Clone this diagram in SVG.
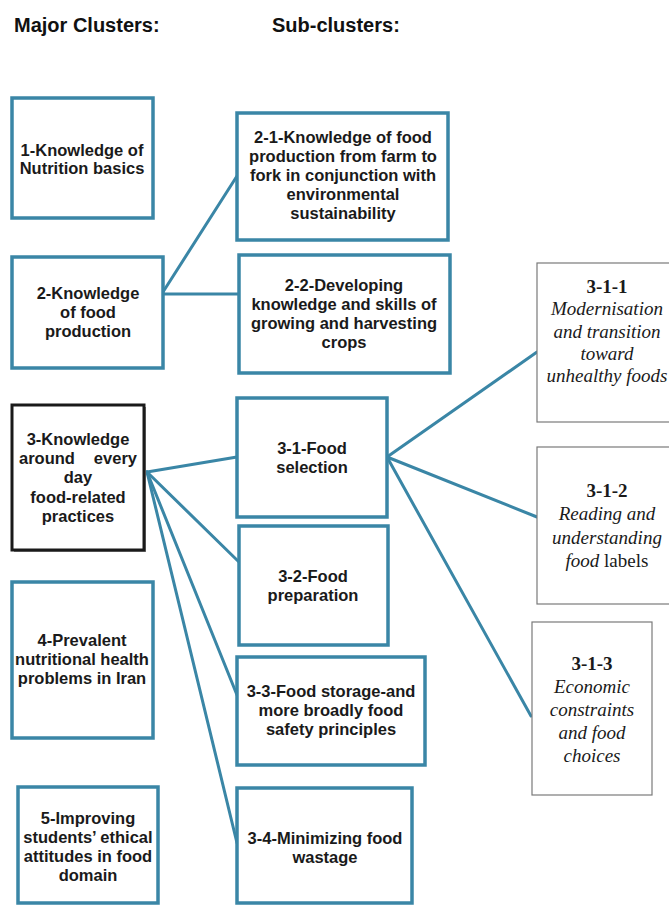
<svg xmlns="http://www.w3.org/2000/svg" width="669" height="905" viewBox="0 0 669 905">
<style>
.hdr{font-family:"Liberation Sans",Arial,sans-serif;font-weight:bold;font-size:20px;fill:#111}
.box{fill:#fff;stroke:#3a86a6;stroke-width:3.5}
.blk{fill:#fff;stroke:#1a1a1a;stroke-width:3}
.thin{fill:#fff;stroke:#7a7a7a;stroke-width:1.2}
.t{font-family:"Liberation Sans",Arial,sans-serif;font-weight:bold;font-size:16.5px;fill:#1a1a1a;text-anchor:middle}
.s{font-family:"Liberation Serif","Times New Roman",serif;font-size:19px;fill:#1a1a1a;text-anchor:middle}
.b{font-weight:bold;font-style:normal}
.i{font-style:italic}
.c{fill:none;stroke:#3a86a6;stroke-width:3;stroke-linecap:round}
</style>
<rect width="669" height="905" fill="#fff"/>
<text class="hdr" x="14" y="32">Major Clusters:</text>
<text class="hdr" x="272" y="32">Sub-clusters:</text>

<g id="connectors">
<line class="c" x1="163" y1="292" x2="237" y2="176"/>
<line class="c" x1="163" y1="294" x2="239" y2="294"/>
<line class="c" x1="147" y1="472" x2="237" y2="457"/>
<line class="c" x1="147" y1="472" x2="239" y2="562"/>
<line class="c" x1="147" y1="472" x2="237" y2="695"/>
<line class="c" x1="147" y1="472" x2="237" y2="843"/>
<line class="c" x1="387" y1="457" x2="537" y2="352"/>
<line class="c" x1="387" y1="457" x2="537" y2="517"/>
<line class="c" x1="387" y1="457" x2="531" y2="716"/>
</g>

<g id="n1">
<rect class="box" x="12" y="98" width="141" height="120"/>
<text class="t" x="82" y="156">1-Knowledge of</text>
<text class="t" x="82" y="174">Nutrition basics</text>
</g>
<g id="n2">
<rect class="box" x="12" y="257" width="151" height="111"/>
<text class="t" x="88" y="299">2-Knowledge</text>
<text class="t" x="88" y="318">of food</text>
<text class="t" x="88" y="337">production</text>
</g>
<g id="n3">
<rect x="14" y="407" width="132" height="145" fill="#888"/>
<rect class="blk" x="12" y="405" width="132" height="145"/>
<text class="t" x="78" y="445">3-Knowledge</text>
<text class="t" y="464"><tspan x="19" style="text-anchor:start">around</tspan><tspan x="137" style="text-anchor:end">every</tspan></text>
<text class="t" x="78" y="483">day</text>
<text class="t" x="78" y="503">food-related</text>
<text class="t" x="78" y="522">practices</text>
</g>
<g id="n4">
<rect class="box" x="12" y="582" width="141" height="156"/>
<text class="t" x="82" y="646">4-Prevalent</text>
<text class="t" x="82" y="665">nutritional health</text>
<text class="t" x="82" y="684">problems in Iran</text>
</g>
<g id="n5">
<rect class="box" x="18" y="787" width="140" height="116"/>
<text class="t" x="88" y="824">5-Improving</text>
<text class="t" x="88" y="843">students’ ethical</text>
<text class="t" x="88" y="862">attitudes in food</text>
<text class="t" x="88" y="881">domain</text>
</g>

<g id="n2-1">
<rect class="box" x="237" y="113" width="211" height="127"/>
<text class="t" x="343" y="143">2-1-Knowledge of food</text>
<text class="t" x="343" y="162">production from farm to</text>
<text class="t" x="343" y="181">fork in conjunction with</text>
<text class="t" x="343" y="200">environmental</text>
<text class="t" x="343" y="219">sustainability</text>
</g>
<g id="n2-2">
<rect class="box" x="239" y="255" width="211" height="118"/>
<text class="t" x="344" y="291">2-2-Developing</text>
<text class="t" x="344" y="310">knowledge and skills of</text>
<text class="t" x="344" y="329">growing and harvesting</text>
<text class="t" x="344" y="348">crops</text>
</g>
<g id="n3-1">
<rect class="box" x="237" y="398" width="150" height="119"/>
<text class="t" x="312" y="454">3-1-Food</text>
<text class="t" x="312" y="473">selection</text>
</g>
<g id="n3-2">
<rect class="box" x="239" y="526" width="149" height="119"/>
<text class="t" x="313" y="582">3-2-Food</text>
<text class="t" x="313" y="601">preparation</text>
</g>
<g id="n3-3">
<rect class="box" x="237" y="657" width="188" height="108"/>
<text class="t" x="331" y="697">3-3-Food storage-and</text>
<text class="t" x="331" y="716">more broadly food</text>
<text class="t" x="331" y="735">safety principles</text>
</g>
<g id="n3-4">
<rect class="box" x="237" y="788" width="175" height="115"/>
<text class="t" x="325" y="844">3-4-Minimizing food</text>
<text class="t" x="325" y="863">wastage</text>
</g>

<g id="n3-1-1">
<rect class="thin" x="537" y="263" width="150" height="159"/>
<text class="s b" x="607" y="293">3-1-1</text>
<text class="s i" x="607" y="315">Modernisation</text>
<text class="s i" x="607" y="338">and transition</text>
<text class="s i" x="607" y="360">toward</text>
<text class="s i" x="607" y="382">unhealthy foods</text>
</g>
<g id="n3-1-2">
<rect class="thin" x="537" y="447" width="150" height="157"/>
<text class="s b" x="607" y="497">3-1-2</text>
<text class="s i" x="607" y="520">Reading and</text>
<text class="s i" x="607" y="544">understanding</text>
<text class="s" x="607" y="567"><tspan class="i">food</tspan> labels</text>
</g>
<g id="n3-1-3">
<rect class="thin" x="532" y="622" width="120" height="173"/>
<text class="s b" x="592" y="670">3-1-3</text>
<text class="s i" x="592" y="693">Economic</text>
<text class="s i" x="592" y="716">constraints</text>
<text class="s i" x="592" y="739">and food</text>
<text class="s i" x="592" y="762">choices</text>
</g>
</svg>
